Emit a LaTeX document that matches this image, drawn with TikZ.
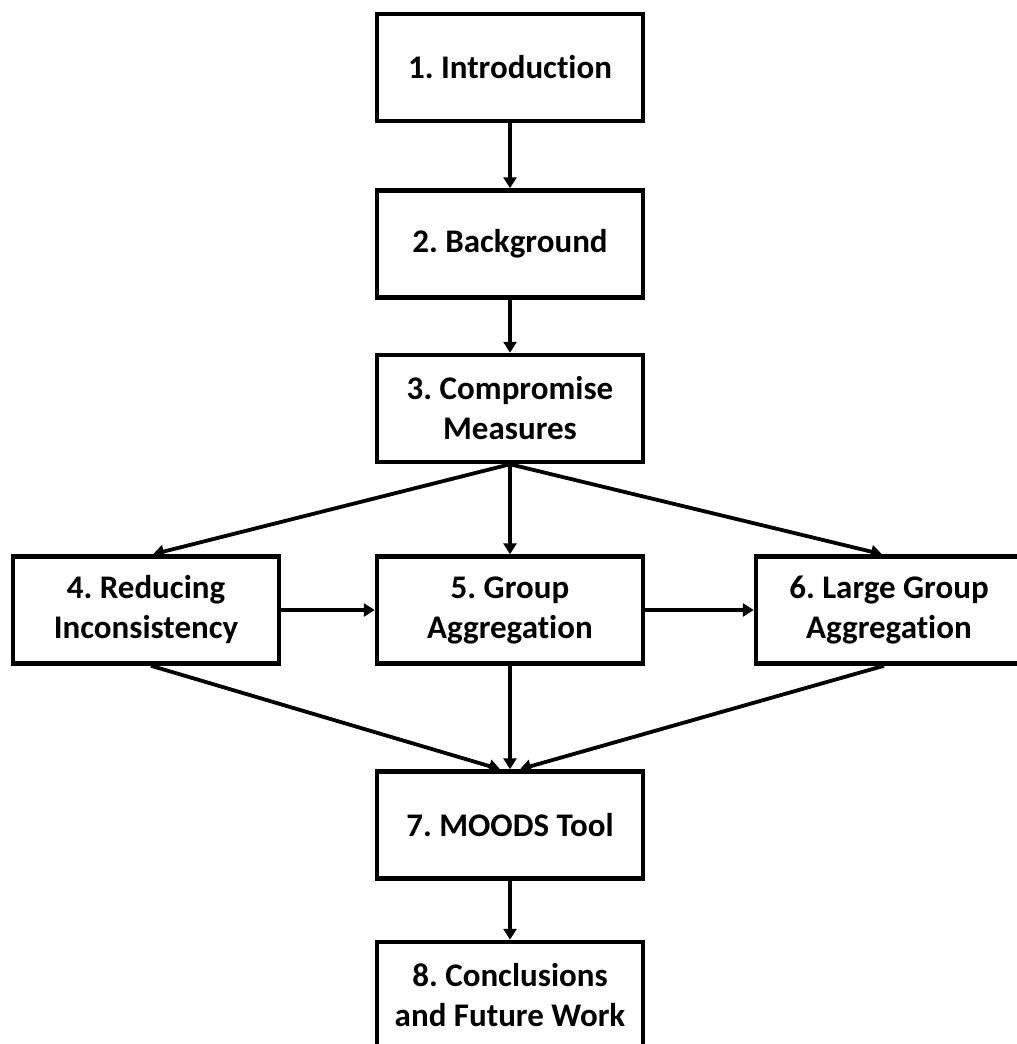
\documentclass[tikz,border=0pt]{standalone}
\usepackage{fontspec}
\setmainfont{Carlito}[Ligatures={NoCommon}]
\frenchspacing
\usetikzlibrary{arrows.meta,calc}
\tikzset{
  stage/.style={draw, line width=4.5pt, minimum width=266pt, minimum height=107pt,
    inner sep=0pt, align=center, font=\fontsize{33}{40}\selectfont\bfseries},
  flow/.style={line width=3.8pt, -{Triangle[width=13pt,length=11pt]}}
}
\begin{document}
\begin{tikzpicture}[x=1pt,y=-1pt]
  \clip (0,0) rectangle (1017,1044);
  \fill[white] (0,0) rectangle (1017,1044);
  \node[stage] (b1) at (510,67.5) {1. Introduction};
  \node[stage] (b2) at (510,244) {2. Background};
  \node[stage] (b3) at (510,408.5) {3. Compromise\\Measures};
  \node[stage] (b4) at (146,610) {4. Reducing\\Inconsistency};
  \node[stage] (b5) at (510,610) {5. Group\\Aggregation};
  \node[stage] (b6) at (889,610) {6. Large Group\\Aggregation};
  \node[stage] (b7) at (510,825) {7. MOODS Tool};
  \node[stage] (b8) at (510,995.5) {8. Conclusions\\and Future Work};

  \draw[flow] (b1) -- (b2);
  \draw[flow] (b2) -- (b3);
  \draw[flow] (b3.south) -- (b5.north);
  \draw[flow] (b3.south) -- ($(b4.north)+(7,0)$);
  \draw[flow] (b3.south) -- ($(b6.north)+(-7,0)$);
  \draw[flow] (b4) -- (b5);
  \draw[flow] (b5) -- (b6);
  \draw[flow] ($(b4.south)+(5,0)$) -- ($(b7.north)+(-10,0)$);
  \draw[flow] (b5.south) -- (b7.north);
  \draw[flow] ($(b6.south)+(-5,0)$) -- ($(b7.north)+(10,0)$);
  \draw[flow] (b7) -- (b8);
\end{tikzpicture}
\end{document}
